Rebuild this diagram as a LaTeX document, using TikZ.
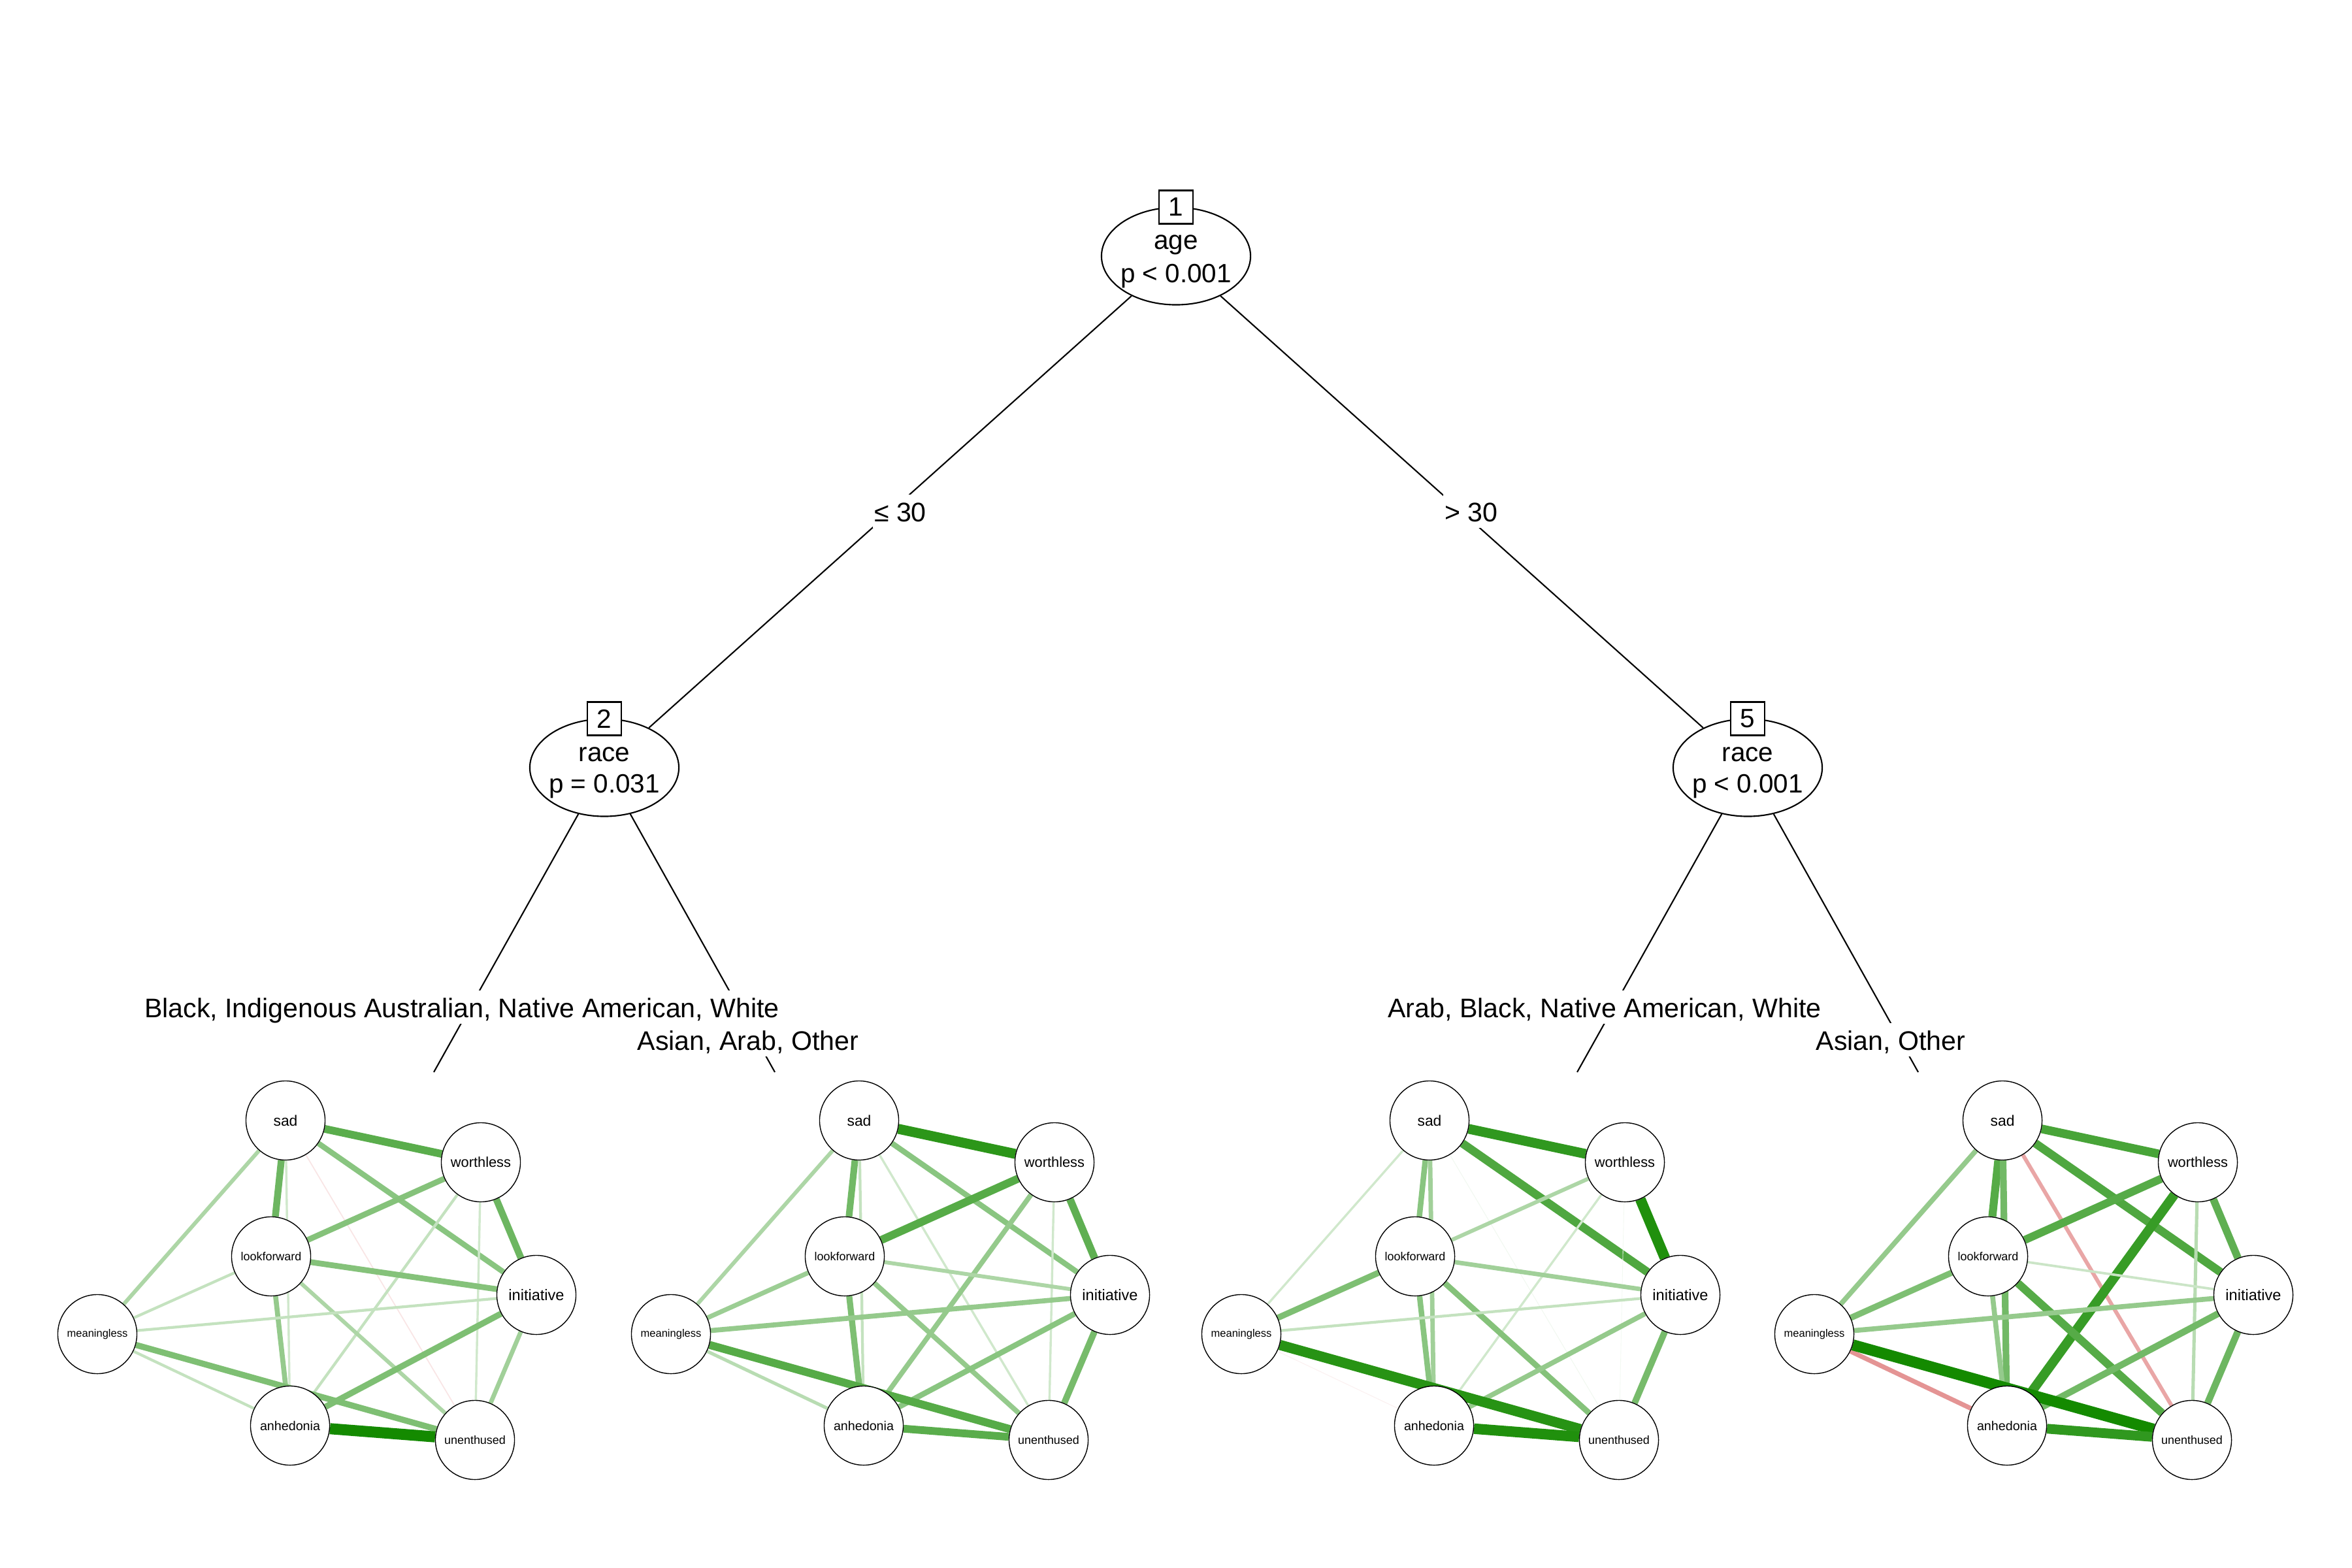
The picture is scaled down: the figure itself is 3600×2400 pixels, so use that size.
\documentclass[tikz,border=0pt]{standalone}
\usepackage{fontspec}
\setmainfont{Liberation Sans}
\usetikzlibrary{shapes.geometric}
\pgfdeclarelayer{paper}
\pgfdeclarelayer{bg}
\pgfsetlayers{paper,bg,main}
\definecolor{gmax}{RGB}{20,138,0}
\definecolor{rmax}{RGB}{191,0,0}
\newcommand\fsz[1]{\fontsize{#1}{#1}\selectfont}
\newcommand\gedge[3]{\draw[line width=#3*0.0017cm, draw=gmax!#3!white] (#1) -- (#2);}
\newcommand\redge[3]{\draw[line width=#3*0.0017cm, draw=rmax!#3!white] (#1) -- (#2);}
\tikzset{
  treenode/.style={ellipse, draw, line width=0.6pt, fill=white, minimum width=2.28cm, minimum height=1.49cm, inner sep=0pt},
  idbox/.style={draw, line width=0.6pt, fill=white, minimum width=0.52cm, minimum height=0.51cm, inner sep=0pt, font=\fsz{11.5}},
  treetext/.style={anchor=base, inner sep=0pt, font=\fsz{11.5}},
  edgelab/.style={anchor=base, fill=white, inner xsep=0.02cm, inner ysep=0pt, text height=0.41cm, text depth=0.10cm, font=\fsz{11.7}},
  treeline/.style={line width=0.6pt},
  var/.style={circle, draw=black, line width=0.4pt, fill=white, minimum size=1.21cm, inner sep=0pt},
}
\newcommand\netnodes[2]{%
  \node[var, font=\fsz{6.5}] (#1S) at (#2,1715) {sad};
  \node[var, font=\fsz{6.2}] (#1W) at ({#2+299},1779) {worthless};
  \node[var, font=\fsz{5.1}] (#1L) at ({#2-22},1923) {lookforward};
  \node[var, font=\fsz{6.7}] (#1I) at ({#2+384},1982) {initiative};
  \node[var, font=\fsz{4.7}] (#1M) at ({#2-288},2042) {meaningless};
  \node[var, font=\fsz{5.6}] (#1A) at ({#2+7},2182) {anhedonia};
  \node[var, font=\fsz{5.1}] (#1U) at ({#2+290},2204) {unenthused};
}
\begin{document}
\begin{tikzpicture}[x=0.01cm, y=-0.01cm]
\useasboundingbox (0,0) rectangle (3600,2400);
\begin{pgfonlayer}{paper}
\fill[white] (0,0) rectangle (3600,2400);
\end{pgfonlayer}

% tree inner nodes
\node[treenode] (n1) at (1800,392) {};
\node[treenode] (n2) at (925,1175) {};
\node[treenode] (n5) at (2675,1175) {};
\coordinate (t3) at (664,1641);
\coordinate (t4) at (1186,1641);
\coordinate (t6) at (2414,1641);
\coordinate (t7) at (2936,1641);

\begin{pgfonlayer}{bg}
\draw[treeline] (n1) -- (n2);
\draw[treeline] (n1) -- (n5);
\draw[treeline] (n2) -- (t3);
\draw[treeline] (n2) -- (t4);
\draw[treeline] (n5) -- (t6);
\draw[treeline] (n5) -- (t7);
\end{pgfonlayer}

\node[idbox] (b1) at (1800,317) {1};
\node[idbox] (b2) at (925,1100) {2};
\node[idbox] (b5) at (2675,1100) {5};
\node[treetext] (l1a) at (1800,381) {age};
\node[treetext] (l1b) at (1800,432) {p < 0.001};
\node[treetext] (l2a) at (925,1165) {race};
\node[treetext] (l2b) at (925,1213) {p = 0.031};
\node[treetext] (l5a) at (2675,1165) {race};
\node[treetext] (l5b) at (2675,1213) {p < 0.001};

\node[edgelab] (e12) at (1378,798) {≤ 30};
\node[edgelab] (e15) at (2252,798) {> 30};
\node[edgelab] (e23) at (707,1557) {Black, Indigenous Australian, Native American, White};
\node[edgelab] (e24) at (1145,1607) {Asian, Arab, Other};
\node[edgelab] (e56) at (2456,1557) {Arab, Black, Native American, White};
\node[edgelab] (e57) at (2894,1607) {Asian, Other};

% networks
\netnodes{p}{437}
\netnodes{q}{1315}
\netnodes{r}{2188}
\netnodes{s}{3065}

\begin{pgfonlayer}{bg}
% panel 1
\gedge{pS}{pW}{70}\gedge{pS}{pI}{50}\gedge{pS}{pL}{62}\gedge{pS}{pA}{20}
\gedge{pS}{pM}{35}\redge{pS}{pU}{10}\gedge{pW}{pL}{52}\gedge{pW}{pI}{62}
\gedge{pW}{pA}{25}\gedge{pW}{pU}{20}\gedge{pL}{pI}{52}\gedge{pL}{pM}{25}
\gedge{pL}{pA}{45}\gedge{pL}{pU}{35}\gedge{pI}{pM}{25}\gedge{pI}{pA}{55}
\gedge{pI}{pU}{40}\gedge{pM}{pA}{25}\gedge{pM}{pU}{55}\gedge{pA}{pU}{100}
% panel 2
\gedge{qS}{qW}{90}\gedge{qS}{qI}{50}\gedge{qS}{qL}{60}\gedge{qS}{qA}{25}
\gedge{qS}{qM}{35}\gedge{qS}{qU}{20}\gedge{qW}{qL}{72}\gedge{qW}{qI}{68}
\gedge{qW}{qA}{45}\gedge{qW}{qU}{20}\gedge{qL}{qI}{35}\gedge{qL}{qM}{42}
\gedge{qL}{qA}{55}\gedge{qL}{qU}{45}\gedge{qI}{qM}{45}\gedge{qI}{qA}{50}
\gedge{qI}{qU}{58}\gedge{qM}{qA}{30}\gedge{qM}{qU}{72}\gedge{qA}{qU}{70}
% panel 3
\gedge{rS}{rW}{88}\gedge{rS}{rI}{75}\gedge{rS}{rL}{50}\gedge{rS}{rA}{40}
\gedge{rS}{rM}{20}\gedge{rS}{rU}{6}\gedge{rW}{rL}{35}\gedge{rW}{rI}{95}
\gedge{rW}{rA}{20}\gedge{rW}{rU}{5}\gedge{rL}{rI}{40}\gedge{rL}{rM}{55}
\gedge{rL}{rA}{50}\gedge{rL}{rU}{52}\gedge{rI}{rM}{25}\gedge{rI}{rA}{45}
\gedge{rI}{rU}{58}\redge{rM}{rA}{6}\gedge{rM}{rU}{92}\gedge{rA}{rU}{95}
% panel 4
\gedge{sS}{sW}{78}\gedge{sS}{sI}{75}\gedge{sS}{sL}{72}\gedge{sS}{sA}{60}
\gedge{sS}{sM}{45}\redge{sS}{sU}{35}\gedge{sW}{sL}{72}\gedge{sW}{sI}{68}
\gedge{sW}{sA}{85}\gedge{sW}{sU}{30}\gedge{sL}{sI}{22}\gedge{sL}{sM}{55}
\gedge{sL}{sA}{45}\gedge{sL}{sU}{72}\gedge{sI}{sM}{45}\gedge{sI}{sA}{60}
\gedge{sI}{sU}{62}\redge{sM}{sA}{42}\gedge{sM}{sU}{100}\gedge{sA}{sU}{88}
\end{pgfonlayer}
\end{tikzpicture}
\end{document}
